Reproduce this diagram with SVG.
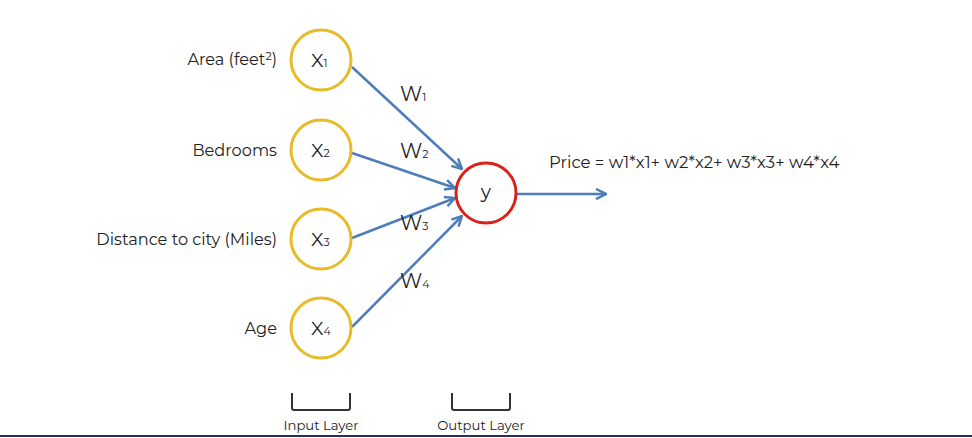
<svg xmlns="http://www.w3.org/2000/svg" width="972" height="438" viewBox="0 0 972 438">
<defs>
<style>
.t{font-family:"Montserrat","Open Sans","Liberation Sans",sans-serif;fill:#222}
.lbl{font-size:16.2px;text-anchor:end}
.in{fill:#fff;stroke:#E8BB2A;stroke-width:3}
.out{fill:#fff;stroke:#D8221A;stroke-width:3}
.c{stroke:#4E7DB9;stroke-width:2.5;fill:none;marker-end:url(#ah)}
.br{stroke:#333;stroke-width:2;fill:none}
.sub{font-size:11px}
</style>
<marker id="ah" viewBox="0 0 10 10" refX="9" refY="5" markerWidth="5" markerHeight="5" orient="auto" markerUnits="strokeWidth">
<path d="M1,1 L9,5 L1,9" fill="none" stroke="#4E7DB9" stroke-width="2"/>
</marker>
</defs>
<rect width="972" height="438" fill="#fff"/>
<g id="connectors">
<line class="c" x1="352" y1="67" x2="462" y2="169"/>
<line class="c" x1="352" y1="153" x2="455" y2="188"/>
<line class="c" x1="352" y1="238" x2="455" y2="198"/>
<line class="c" x1="352" y1="327" x2="462" y2="216"/>
<line class="c" x1="517" y1="194" x2="606" y2="194"/>
<text class="t" x="400" y="101" font-size="20">W<tspan class="sub">1</tspan></text>
<text class="t" x="400" y="158" font-size="20">W<tspan class="sub">2</tspan></text>
<text class="t" x="400" y="230" font-size="20">W<tspan class="sub">3</tspan></text>
<text class="t" x="400" y="288" font-size="20">W<tspan class="sub">4</tspan></text>
</g>
<g id="x1">
<text class="t lbl" x="277" y="65">Area (feet<tspan font-size="11" dy="-5">2</tspan><tspan dy="5">)</tspan></text>
<circle class="in" cx="321" cy="60" r="30"/>
<text class="t" x="311" y="67" font-size="19">X<tspan class="sub">1</tspan></text>
</g>
<g id="x2">
<text class="t lbl" x="277" y="156">Bedrooms</text>
<circle class="in" cx="321" cy="150" r="30"/>
<text class="t" x="311" y="157" font-size="19">X<tspan class="sub">2</tspan></text>
</g>
<g id="x3">
<text class="t lbl" x="277" y="245">Distance to city (Miles)</text>
<circle class="in" cx="321" cy="239" r="30"/>
<text class="t" x="311" y="246" font-size="19">X<tspan class="sub">3</tspan></text>
</g>
<g id="x4">
<text class="t lbl" x="277" y="334">Age</text>
<circle class="in" cx="321" cy="328" r="30"/>
<text class="t" x="311" y="335" font-size="19">X<tspan class="sub">4</tspan></text>
</g>
<g id="y">
<circle class="out" cx="486" cy="193" r="30"/>
<text class="t" x="486" y="198" font-size="19" text-anchor="middle">y</text>
</g>
<g id="price">
<text class="t" x="549" y="168" font-size="16.5">Price = w1*x1+ w2*x2+ w3*x3+ w4*x4</text>
</g>
<g id="input-layer">
<path class="br" d="M292,393 V408 Q292,410 294,410 H348 Q350,410 350,408 V393"/>
<text class="t" x="321" y="430" font-size="13.2" text-anchor="middle">Input Layer</text>
</g>
<g id="output-layer">
<path class="br" d="M452,393 V408 Q452,410 454,410 H508 Q510,410 510,408 V393"/>
<text class="t" x="481" y="430" font-size="13.2" text-anchor="middle">Output Layer</text>
</g>
<rect x="0" y="435" width="972" height="2" fill="#1E3558"/>
</svg>
